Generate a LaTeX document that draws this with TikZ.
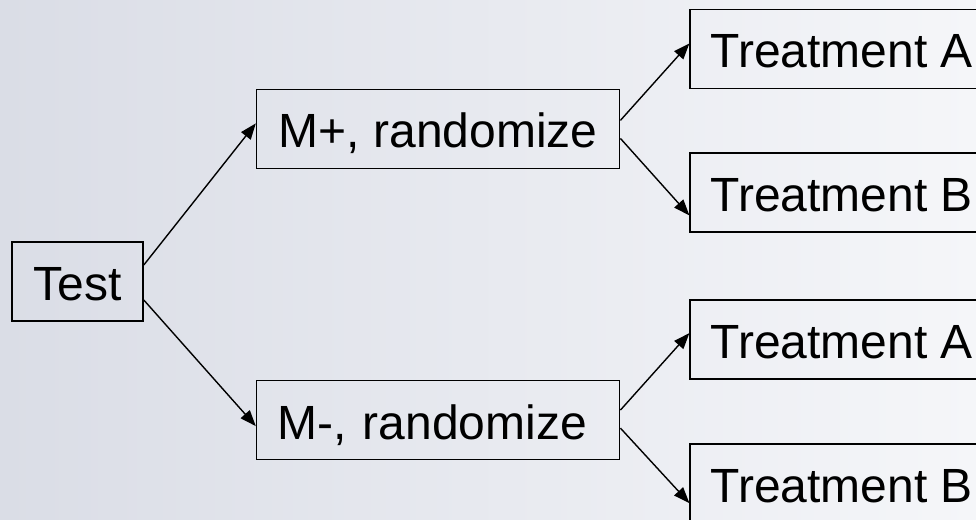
\documentclass[tikz,border=0pt]{standalone}
\usepackage{fontspec}
\setmainfont{Liberation Sans}
\usetikzlibrary{positioning,arrows.meta}

\definecolor{bgleft}{RGB}{218,221,230}
\definecolor{bgright}{RGB}{245,246,249}

\begin{document}
\begin{tikzpicture}[x=1pt, y=-1pt,
    box/.style={draw, line width=1.6pt, minimum height=79pt, inner xsep=0pt, inner ysep=0pt,
                text height=38pt, text depth=0pt, font=\fontsize{48}{58}\selectfont},
    mbox/.style={box, minimum width=363pt},
    tbox/.style={box, minimum width=303pt},
    arr/.style={-{Triangle[length=16pt,width=12pt]}, line width=1.4pt}]
    \useasboundingbox (0,0) rectangle (976,519);
    \clip (0,0) rectangle (976,519);
    \fill[left color=bgleft, right color=bgright] (0,0) rectangle (976,519);

    % first split: marker status
    \node[box, minimum width=131pt] (test) at (77.5,281.5) {Test};
    \node[mbox, above right=72pt and 112pt of test] (mplus) {M+, randomize};
    \node[mbox, inner xsep=21pt, text width=321pt, align=left,
          below right=58pt and 112pt of test] (mminus) {M-, randomize};

    % second split: randomised arms
    \node[tbox, right=69pt of mplus, yshift=80pt] (ta1) {Treatment A};
    \node[tbox, right=69pt of mplus, yshift=-63.5pt] (tb1) {Treatment B};
    \node[tbox, right=69pt of mminus, yshift=80.5pt] (ta2) {Treatment A};
    \node[tbox, right=69pt of mminus, yshift=-63.5pt] (tb2) {Treatment B};

    \draw[arr] ([yshift=16.5pt]test.east) -- ([yshift=5.5pt]mplus.west);
    \draw[arr] ([yshift=-18.5pt]test.east) -- ([yshift=-6pt]mminus.west);
    \draw[arr] ([yshift=8.5pt]mplus.east) -- ([yshift=5.5pt]ta1.west);
    \draw[arr] ([yshift=-9.5pt]mplus.east) -- ([yshift=-23pt]tb1.west);
    \draw[arr] ([yshift=10pt]mminus.east) -- ([yshift=6.5pt]ta2.west);
    \draw[arr] ([yshift=-8pt]mminus.east) -- ([yshift=-19.5pt]tb2.west);
\end{tikzpicture}
\end{document}
